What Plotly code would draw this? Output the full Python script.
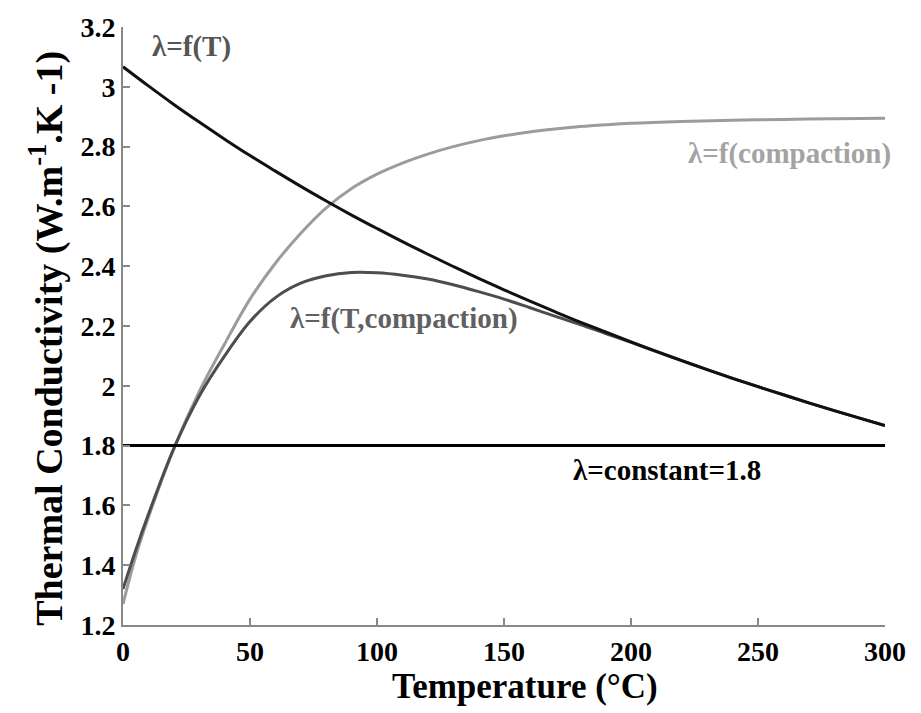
import plotly.graph_objects as go

# Temperature grid (°C) and conductivity values
T_fT = [0, 10, 20, 30, 40, 50, 60, 70, 80, 90, 100, 110, 120, 130, 140, 150,
        160, 170, 180, 190, 200, 210, 220, 230, 240, 250, 260, 270, 280, 290, 300]
lam_fT = [3.067, 3.003, 2.941, 2.882, 2.825, 2.770, 2.718, 2.667, 2.618, 2.571,
          2.526, 2.482, 2.440, 2.399, 2.359, 2.321, 2.284, 2.248, 2.213, 2.180,
          2.147, 2.115, 2.084, 2.054, 2.025, 1.997, 1.970, 1.943, 1.917, 1.892, 1.867]

T_comp = [0, 5, 10, 20, 30, 40, 50, 60, 70, 80, 90, 100, 110, 120, 130, 140,
          150, 160, 170, 180, 190, 200, 220, 240, 260, 280, 300]
lam_comp = [1.27, 1.43, 1.56, 1.79, 1.98, 2.14, 2.29, 2.41, 2.51, 2.595, 2.66,
            2.708, 2.745, 2.775, 2.80, 2.82, 2.836, 2.849, 2.859, 2.867, 2.873,
            2.878, 2.884, 2.888, 2.891, 2.893, 2.895]

T_both = [0, 5, 10, 20, 30, 40, 50, 60, 70, 80, 90, 100, 110, 120, 130,
          140, 150, 160, 170, 180, 190, 200, 210, 220, 230, 240, 250, 260, 270,
          280, 290, 300]
lam_both = [1.32, 1.45, 1.57, 1.79, 1.965, 2.10, 2.215, 2.295, 2.343,
            2.368, 2.379, 2.378, 2.37, 2.357, 2.338, 2.315, 2.29, 2.262, 2.233,
            2.205, 2.175, 2.145, 2.114, 2.084, 2.054, 2.025, 1.997, 1.970, 1.943,
            1.917, 1.892, 1.867]

T_const = [0, 300]
lam_const = [1.8, 1.8]

x_ticks = [0, 50, 100, 150, 200, 250, 300]
y_ticks = [1.2, 1.4, 1.6, 1.8, 2.0, 2.2, 2.4, 2.6, 2.8, 3.0, 3.2]
y_tick_labels = ["1.2", "1.4", "1.6", "1.8", "2", "2.2", "2.4", "2.6", "2.8", "3", "3.2"]

labels = ["λ=f(T)", "λ=f(compaction)", "λ=f(T,compaction)", "λ=constant=1.8"]
label_x = [27, 262.5, 110.5, 214]
label_y = [3.135, 2.777, 2.225, 1.717]
label_colors = ["#555555", "#a3a3a3", "#606060", "#000000"]

FONT = "Liberation Serif"

fig = go.Figure()
fig.add_trace(go.Scatter(x=T_comp, y=lam_comp, mode="lines",
                         line=dict(color="#9c9c9c", width=3, shape="spline"),
                         showlegend=False))
fig.add_trace(go.Scatter(x=T_both, y=lam_both, mode="lines",
                         line=dict(color="#4d4d4d", width=3, shape="spline"),
                         showlegend=False))
fig.add_trace(go.Scatter(x=T_fT, y=lam_fT, mode="lines",
                         line=dict(color="#111111", width=3, shape="spline"),
                         showlegend=False))
fig.add_trace(go.Scatter(x=T_const, y=lam_const, mode="lines",
                         line=dict(color="#000000", width=3),
                         showlegend=False))

for txt, xx, yy, col in zip(labels, label_x, label_y, label_colors):
    fig.add_annotation(x=xx, y=yy, text="<b>" + txt + "</b>", showarrow=False,
                       font=dict(family=FONT, size=29, color=col),
                       xanchor="center", yanchor="middle")

# axis titles as annotations for precise placement
fig.add_annotation(xref="paper", yref="paper", x=0.528, y=-0.103,
                   text="<b>Temperature (°C)</b>", showarrow=False,
                   font=dict(family=FONT, size=35, color="black"),
                   xanchor="center", yanchor="middle")
fig.add_annotation(xref="paper", yref="paper", x=-0.1, y=0.48,
                   text="<b>Thermal Conductivity (W.m<sup>-1</sup>.K -1)</b>",
                   showarrow=False, textangle=-90,
                   font=dict(family=FONT, size=38, color="black"),
                   xanchor="center", yanchor="middle")

fig.update_layout(
    width=921, height=713,
    margin=dict(l=123, r=36, t=25, b=88),
    paper_bgcolor="white", plot_bgcolor="white",
    font=dict(family=FONT, color="black"),
    xaxis=dict(range=[0, 300], tickvals=x_ticks,
               ticktext=["<b>" + str(v) + "</b>" for v in x_ticks],
               ticks="inside", ticklen=7, tickcolor="#888888", tickwidth=1.5,
               showline=True, linecolor="#888888", linewidth=2, showgrid=False,
               zeroline=False,
               tickfont=dict(family=FONT, size=28, color="black")),
    yaxis=dict(range=[1.2, 3.2], tickvals=y_ticks,
               ticktext=["<b>" + s + "</b>" for s in y_tick_labels],
               ticks="inside", ticklen=7, tickcolor="#888888", tickwidth=1.5,
               showline=True, linecolor="#888888", linewidth=2, showgrid=False,
               zeroline=False,
               tickfont=dict(family=FONT, size=28, color="black")),
)

fig.write_html("out.html")
